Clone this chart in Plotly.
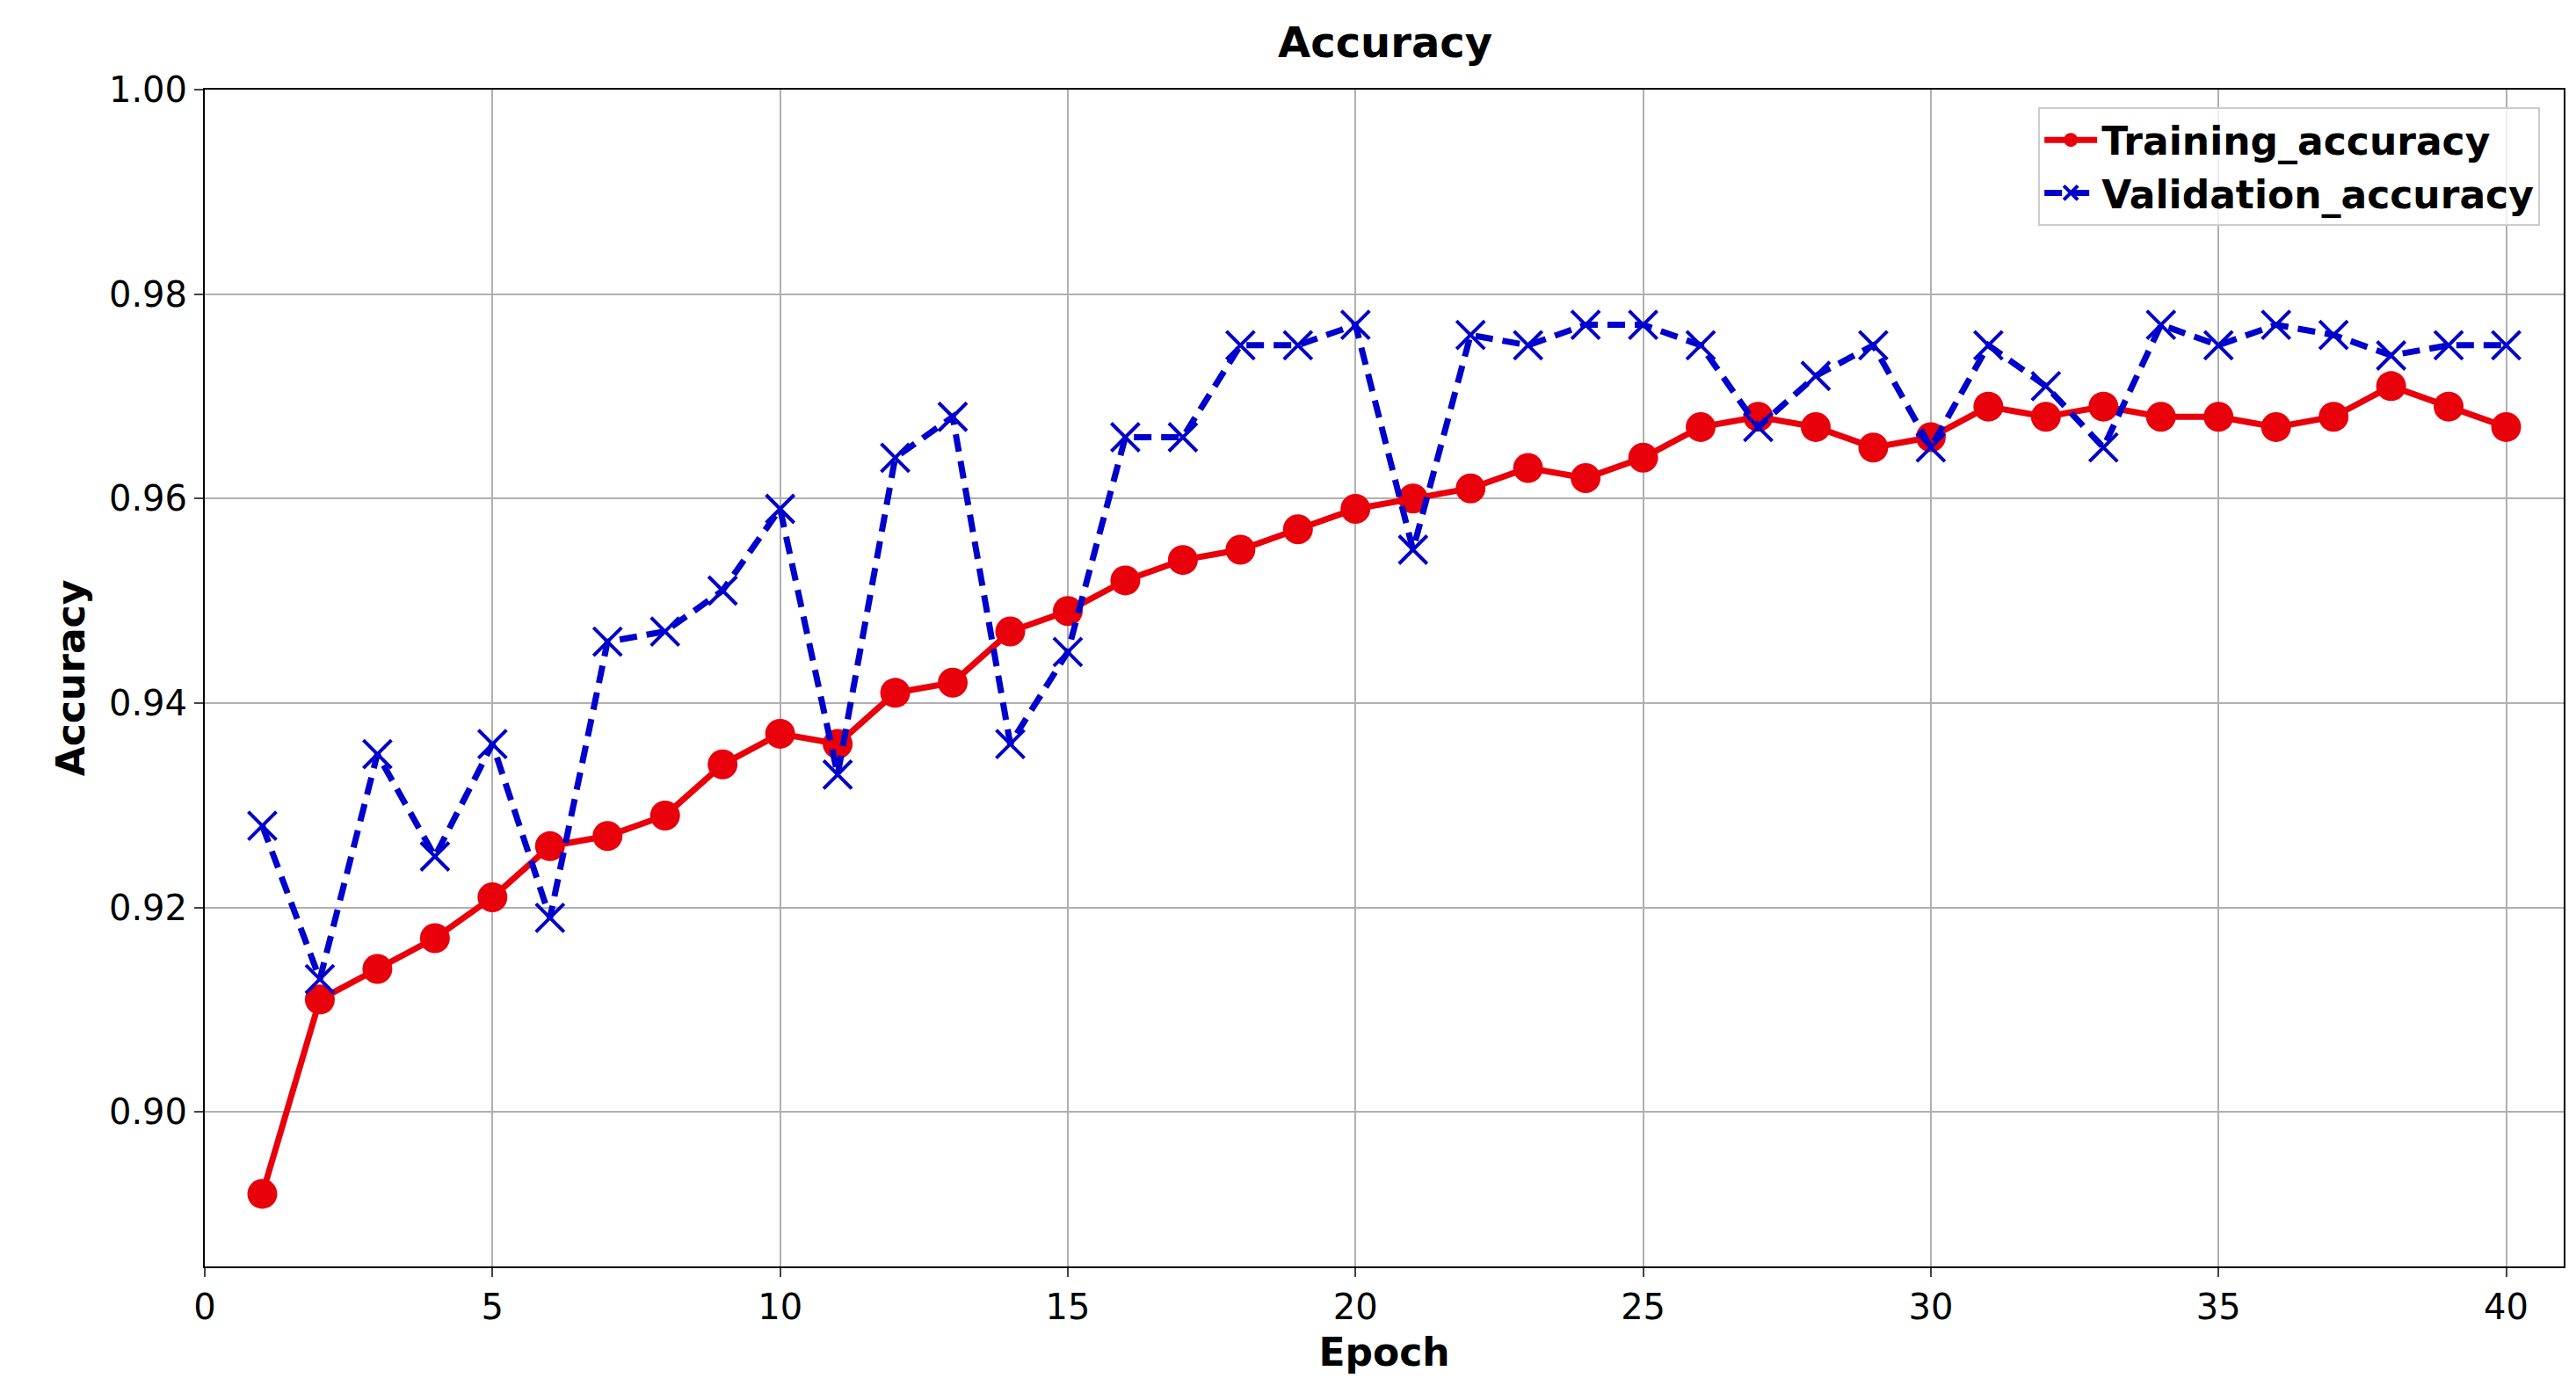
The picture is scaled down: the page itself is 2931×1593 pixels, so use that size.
import plotly.graph_objects as go

epochs = list(range(1, 41))
train_acc = [0.892,0.911,0.914,0.917,0.921,0.926,0.927,0.929,0.934,0.937,0.936,0.941,0.942,0.947,0.949,0.952,0.954,0.955,0.957,0.959,0.960,0.961,0.963,0.962,0.964,0.967,0.968,0.967,0.965,0.966,0.969,0.968,0.969,0.968,0.968,0.967,0.968,0.971,0.969,0.967]
val_acc = [0.928,0.913,0.935,0.925,0.936,0.919,0.946,0.947,0.951,0.959,0.933,0.964,0.968,0.936,0.945,0.966,0.966,0.975,0.975,0.977,0.955,0.976,0.975,0.977,0.977,0.975,0.967,0.972,0.975,0.965,0.975,0.971,0.965,0.977,0.975,0.977,0.976,0.974,0.975,0.975]
x_ticks = [0,5,10,15,20,25,30,35,40]
y_ticks = [0.90,0.92,0.94,0.96,0.98,1.00]

fig = go.Figure()
fig.add_trace(go.Scatter(x=epochs, y=train_acc, name="<b>Training_accuracy</b>", mode="lines+markers",
    line=dict(color="#e8000b", width=7), marker=dict(symbol="circle", size=34, color="#e8000b")))
fig.add_trace(go.Scatter(x=epochs, y=val_acc, name="<b>Validation_accuracy</b>", mode="lines+markers",
    line=dict(color="#0000cc", width=7, dash="20px,11px"),
    marker=dict(symbol="x-thin", size=32, line=dict(color="#0000cc", width=4), color="#0000cc")))

font = "DejaVu Sans"
fig.update_layout(
    width=2931, height=1593, paper_bgcolor="white", plot_bgcolor="white",
    margin=dict(l=225, r=22, t=94, b=160),
    font=dict(family=font, size=40, color="black"),
    title=dict(text="<b>Accuracy</b>", x=0.535, xanchor="center", y=0.985, yanchor="top", font=dict(size=48)),
    legend=dict(x=0.99, xanchor="right", y=0.985, yanchor="top", bordercolor="#cccccc", borderwidth=2,
                bgcolor="rgba(255,255,255,0.8)", font=dict(size=44), tracegroupgap=20, itemwidth=60),
    showlegend=True,
)
fig.update_xaxes(range=[0, 41], tickvals=x_ticks, showgrid=True, gridcolor="#b0b0b0", gridwidth=2,
    showline=True, linecolor="black", linewidth=2, mirror=True, ticks="outside", ticklen=10, tickwidth=2,
    title=dict(text="<b>Epoch</b>", font=dict(size=44), standoff=14), zeroline=False)
fig.update_yaxes(range=[0.8849, 1.0], tickvals=y_ticks, tickformat=".2f", showgrid=True, gridcolor="#b0b0b0", gridwidth=2,
    showline=True, linecolor="black", linewidth=2, mirror=True, ticks="outside", ticklen=10, tickwidth=2,
    title=dict(text="<b>Accuracy</b>", font=dict(size=44), standoff=14), zeroline=False)
fig.write_html("out.html")
